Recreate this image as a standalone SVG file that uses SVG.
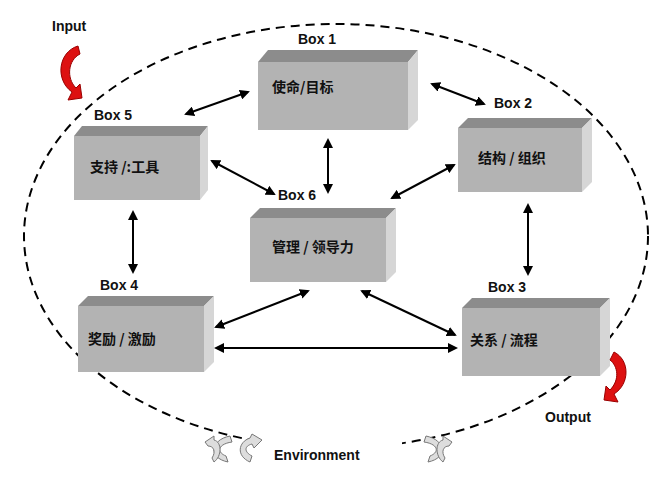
<svg xmlns="http://www.w3.org/2000/svg" width="668" height="483" viewBox="0 0 668 483">
<style>
.front{fill:#b3b3b3}.top{fill:#8c8c8c}.side{fill:#d6d6d6}
.lbl{font-family:"Liberation Sans",Arial,sans-serif;font-weight:bold;font-size:14px;fill:#111}
.cn{font-family:"Noto Sans CJK SC",sans-serif;font-weight:bold;font-size:14px;fill:#111}
.ar{stroke:#000;stroke-width:2;fill:none;marker-start:url(#a);marker-end:url(#a)}
.env{fill:#ddd;stroke:#777;stroke-width:1}
</style>
<defs>
<marker id="a" viewBox="0 0 10 10" refX="8" refY="5" markerWidth="5" markerHeight="5" orient="auto-start-reverse"><path d="M0,0L10,5L0,10z" fill="#000"/></marker>
</defs>
<ellipse cx="336" cy="236" rx="312" ry="212" fill="none" stroke="#000" stroke-width="2" stroke-dasharray="9,6"/>
<g id="connectors">
<line class="ar" x1="186" y1="114" x2="248" y2="92"/>
<line class="ar" x1="432" y1="84" x2="484" y2="104"/>
<line class="ar" x1="328" y1="140" x2="328" y2="192"/>
<line class="ar" x1="212" y1="161" x2="274" y2="194"/>
<line class="ar" x1="454" y1="165" x2="392" y2="198"/>
<line class="ar" x1="133" y1="212" x2="133" y2="272"/>
<line class="ar" x1="528" y1="205" x2="528" y2="274"/>
<line class="ar" x1="308" y1="291" x2="216" y2="327"/>
<line class="ar" x1="362" y1="291" x2="455" y2="335"/>
<line class="ar" x1="216" y1="348" x2="456" y2="348"/>
</g>
<g id="box1"><polygon class="top" points="258,62 268,50 418,50 408,62"/><polygon class="side" points="408,62 418,50 418,120 408,130"/><rect class="front" x="258" y="62" width="150" height="68"/><text class="lbl" x="298" y="44">Box 1</text><text class="cn" x="272" y="92">使命/目标</text></g>
<g id="box5"><polygon class="top" points="74,136 82,126 208,126 200,136"/><polygon class="side" points="200,136 208,126 208,190 200,200"/><rect class="front" x="74" y="136" width="126" height="64"/><text class="lbl" x="94" y="120">Box 5</text><text class="cn" x="90" y="172">支持 /:工具</text></g>
<g id="box2"><polygon class="top" points="458,128 468,118 592,118 582,128"/><polygon class="side" points="582,128 592,118 592,182 582,192"/><rect class="front" x="458" y="128" width="124" height="64"/><text class="lbl" x="494" y="108">Box 2</text><text class="cn" x="478" y="163">结构 / 组织</text></g>
<g id="box6"><polygon class="top" points="250,218 260,208 396,208 386,218"/><polygon class="side" points="386,218 396,208 396,272 386,282"/><rect class="front" x="250" y="218" width="136" height="64"/><text class="lbl" x="278" y="200">Box 6</text><text class="cn" x="272" y="252">管理 / 领导力</text></g>
<g id="box4"><polygon class="top" points="78,306 88,296 214,296 204,306"/><polygon class="side" points="204,306 214,296 214,362 204,372"/><rect class="front" x="78" y="306" width="126" height="66"/><text class="lbl" x="100" y="290">Box 4</text><text class="cn" x="88" y="344">奖励 / 激励</text></g>
<g id="box3"><polygon class="top" points="462,308 472,298 610,298 600,308"/><polygon class="side" points="600,308 610,298 610,366 600,376"/><rect class="front" x="462" y="308" width="138" height="68"/><text class="lbl" x="488" y="292">Box 3</text><text class="cn" x="470" y="345">关系 / 流程</text></g>
<g id="input"><text class="lbl" x="52" y="31">Input</text><path d="M78,46 C58,52 55,80 72,92 L68,100 L82,98 L80,84 L76,88 C66,78 68,60 80,54 Z" fill="#d11" stroke="#900" stroke-width="1"/></g>
<g id="output"><text class="lbl" x="545" y="422">Output</text><path d="M614,352 C630,360 630,384 614,394 L618,402 L604,400 L606,386 L610,390 C620,380 618,366 610,360 Z" fill="#d11" stroke="#900" stroke-width="1"/></g>
<g id="environment">
<rect x="262" y="440" width="140" height="26" fill="#fff"/>
<path class="env" d="M230,436 C210,440 208,458 228,462 L226,456 C216,452 218,444 232,442 Z"/>
<path class="env" d="M205,442 L214,436 L214,440 C222,442 222,456 214,462 L212,458 C216,452 214,446 208,446 Z"/>
<path class="env" d="M250,438 C238,442 236,456 250,462 L252,456 C244,452 244,446 252,444 L254,448 L262,440 L252,434 Z"/>
<path class="env" d="M426,436 C446,440 448,458 428,462 L430,456 C440,452 438,444 424,442 Z"/>
<path class="env" d="M452,442 L443,436 L443,440 C435,442 435,456 443,462 L445,458 C441,452 443,446 449,446 Z"/>
<text class="lbl" x="274" y="460">Environment</text>
</g>
</svg>
